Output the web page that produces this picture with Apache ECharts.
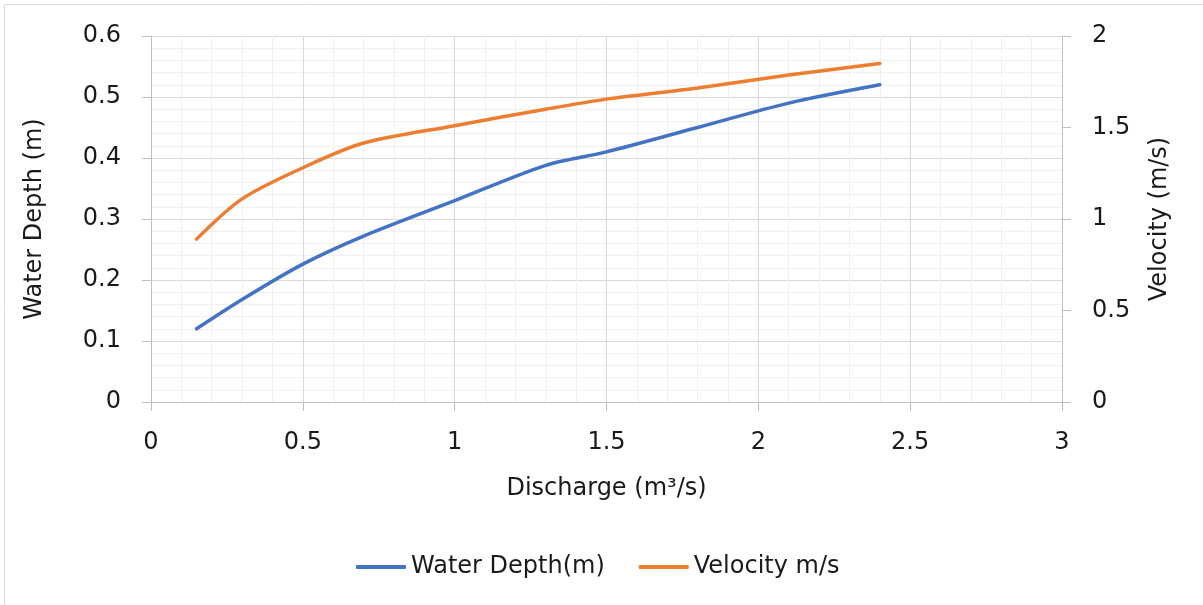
<!DOCTYPE html>
<html>
<head>
<meta charset="utf-8">
<script src="https://cdn.jsdelivr.net/npm/echarts@6/dist/echarts.min.js"></script>
<style>html,body{margin:0;padding:0;background:#fff}#c{width:1203px;height:605px}</style>
</head>
<body>
<div id="c"></div>
<script>
const discharge = [0.15, 0.3, 0.5, 0.7, 1.0, 1.3, 1.5, 1.8, 2.1, 2.4];
const waterDepth = [0.12, 0.168, 0.226, 0.272, 0.33, 0.388, 0.41, 0.45, 0.49, 0.52];
const velocity = [0.89, 1.11, 1.28, 1.415, 1.51, 1.60, 1.655, 1.716, 1.787, 1.85];
const seriesNames = ['Water Depth(m)', 'Velocity m/s'];

const FONT = 'DejaVu Sans';
const FS = 24;
const TXT = '#1a1a1a';
const chart = echarts.init(document.getElementById('c'));
chart.setOption({
  animation: false,
  textStyle: { fontFamily: FONT },
  graphic: [{ type: 'rect', shape: { x: 4.5, y: 4.5, width: 1300, height: 700 }, style: { fill: 'none', stroke: '#d9d9d9', lineWidth: 1 }, z: -1 }],
  grid: { left: 151, right: 141, top: 36, bottom: 203 },
  legend: {
    bottom: 21, left: 351, itemGap: 34, itemWidth: 50, itemHeight: 4, icon: 'roundRect',
    textStyle: { fontSize: FS, color: TXT, fontFamily: FONT },
    data: seriesNames
  },
  xAxis: {
    type: 'value', min: 0, max: 3, interval: 0.5,
    name: 'Discharge (m³/s)', nameLocation: 'middle', nameGap: 75,
    nameTextStyle: { fontSize: FS, color: TXT },
    axisLine: { show: true, onZero: false, lineStyle: { color: '#bfbfbf', width: 1 } },
    axisTick: { show: true, length: 9, lineStyle: { color: '#bfbfbf' } },
    axisLabel: { fontSize: FS, color: TXT, margin: 29 },
    splitLine: { show: true, lineStyle: { color: '#d9d9d9', width: 1 } },
    minorTick: { show: false, splitNumber: 5 },
    minorSplitLine: { show: true, lineStyle: { color: '#f0f0f0', width: 1 } }
  },
  yAxis: [{
    type: 'value', min: 0, max: 0.6, interval: 0.1,
    name: 'Water Depth (m)', nameLocation: 'middle', nameGap: 104,
    nameTextStyle: { fontSize: FS, color: TXT },
    axisLine: { show: true, lineStyle: { color: '#bfbfbf', width: 1 } },
    axisTick: { show: true, length: 9, lineStyle: { color: '#bfbfbf' } },
    axisLabel: { fontSize: FS, color: TXT, margin: 30 },
    splitLine: { show: true, lineStyle: { color: '#d9d9d9', width: 1 } },
    minorTick: { show: false, splitNumber: 5 },
    minorSplitLine: { show: true, lineStyle: { color: '#f0f0f0', width: 1 } }
  }, {
    type: 'value', min: 0, max: 2, interval: 0.5, position: 'right',
    name: 'Velocity (m/s)', nameLocation: 'middle', nameGap: 86,
    nameTextStyle: { fontSize: FS, color: TXT },
    axisLine: { show: true, lineStyle: { color: '#bfbfbf', width: 1 } },
    axisTick: { show: true, length: 9, lineStyle: { color: '#bfbfbf' } },
    axisLabel: { fontSize: FS, color: TXT, margin: 30 },
    splitLine: { show: false }
  }],
  series: [{
    name: seriesNames[0], type: 'line', yAxisIndex: 0, smooth: 0.3, symbol: 'none',
    lineStyle: { color: '#4472C4', width: 3.5, cap: 'round' }, itemStyle: { color: '#4472C4' },
    data: discharge.map((x, i) => [x, waterDepth[i]])
  }, {
    name: seriesNames[1], type: 'line', yAxisIndex: 1, smooth: 0.3, symbol: 'none',
    lineStyle: { color: '#ED7D31', width: 3.5, cap: 'round' }, itemStyle: { color: '#ED7D31' },
    data: discharge.map((x, i) => [x, velocity[i]])
  }]
});
</script>
</body>
</html>
